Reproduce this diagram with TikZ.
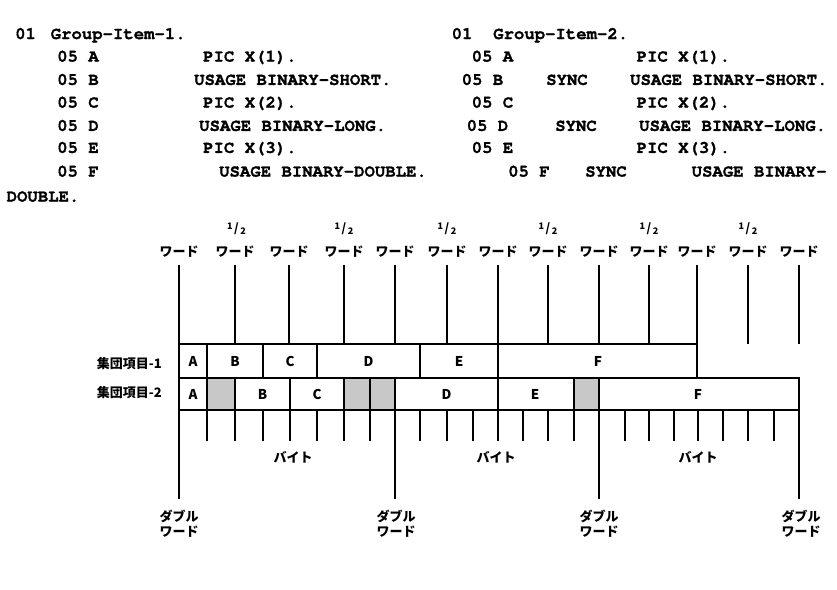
\documentclass[tikz,border=0pt]{standalone}
\usepackage{fontspec}
\setmonofont{texgyrecursor}[Extension=.otf,UprightFont=*-regular,BoldFont=*-bold,BoldFeatures={FakeBold=1.3}]
\newfontfamily\jpfont{Noto Sans CJK JP}
\usepackage{tikz}
\definecolor{padgray}{RGB}{200,200,200}
\newcommand{\halfmark}{{\fontsize{9}{9}\selectfont\raisebox{3pt}{1}}\kern1.5pt{\fontsize{12}{12}\selectfont/}\kern1.5pt{\fontsize{9}{9}\selectfont\raisebox{-2pt}{2}}}

\begin{document}
\begin{tikzpicture}[x=1pt,y=-1pt,line width=2.4pt,
  code/.style={anchor=base west,inner sep=0pt,font=\ttfamily\bfseries\fontsize{17.3}{17.3}\selectfont},
  lbl/.style={inner sep=0pt,align=center,font=\jpfont\bfseries\fontsize{13}{15}\selectfont},
  cell/.style={inner sep=0pt,font=\jpfont\bfseries\fontsize{13.5}{13.5}\selectfont},
  half/.style={inner sep=0pt,font=\jpfont\bfseries}]
\useasboundingbox (0,0) rectangle (837,589);
% Source - Group-Item-1
\node[code] (lv1) at (14,39) {01};
\node[code] (gi1) at (49.5,39) {Group-Item-1.};
\node[code] (a1) at (56,61.6) {05 A};
\node[code] (a1c) at (202,61.6) {PIC X(1).};
\node[code] (b1) at (56,84.9) {05 B};
\node[code] (b1c) at (193,84.9) {USAGE BINARY-SHORT.};
\node[code] (c1) at (56,107.6) {05 C};
\node[code] (c1c) at (202,107.6) {PIC X(2).};
\node[code] (d1) at (56,130.9) {05 D};
\node[code] (d1c) at (198,130.9) {USAGE BINARY-LONG.};
\node[code] (e1) at (56,152.9) {05 E};
\node[code] (e1c) at (202,152.9) {PIC X(3).};
\node[code] (f1) at (56,176.6) {05 F};
\node[code] (f1c) at (218,176.6) {USAGE BINARY-DOUBLE.};
\node[code] (f1d) at (5.5,201.6) {DOUBLE.};
% Source - Group-Item-2
\node[code] (lv2) at (450.5,39) {01};
\node[code] (gi2) at (492,39) {Group-Item-2.};
\node[code] (a2) at (470.5,61.6) {05 A};
\node[code] (a2c) at (635.5,61.6) {PIC X(1).};
\node[code] (b2) at (460.5,84.9) {05 B};
\node[code] (b2s) at (545,84.9) {SYNC};
\node[code] (b2c) at (629,84.9) {USAGE BINARY-SHORT.};
\node[code] (c2) at (470.5,107.6) {05 C};
\node[code] (c2c) at (635.5,107.6) {PIC X(2).};
\node[code] (d2) at (465.5,130.9) {05 D};
\node[code] (d2s) at (554,130.9) {SYNC};
\node[code] (d2c) at (638,130.9) {USAGE BINARY-LONG.};
\node[code] (e2) at (470.5,152.9) {05 E};
\node[code] (e2c) at (635.5,152.9) {PIC X(3).};
\node[code] (f2) at (507,176.6) {05 F};
\node[code] (f2s) at (584,176.6) {SYNC};
\node[code] (f2c) at (690.5,176.6) {USAGE BINARY-};
% Word / half word ticks
\foreach \x in {179,235,289,344,395,447,498,548,599,649,697,748,799}{
  \draw (\x,265) -- (\x,344);
  \node[lbl] at (\x,252) {ワード};
}
\foreach \x in {236.5,344,447,548,649,748}
  \node[half] at (\x,229) {\halfmark};
% Group-Item-1 row
\draw (179,344) rectangle (697,378);
\foreach \x in {207,263,317,420,498}
  \draw (\x,344) -- (\x,378);
% Group-Item-2 row
\fill[padgray] (207,378) rectangle (235,410);
\fill[padgray] (344,378) rectangle (395,410);
\fill[padgray] (574,378) rectangle (599,410);
\draw (179,378) rectangle (799,410);
\foreach \x in {207,235,290,344,370,395,498,574,599}
  \draw (\x,378) -- (\x,410);
% Bytes
\foreach \x in {207,235,263,290,317,344,370,420,447,473,498,523,548,574,625,649,674,698,723,748,774}
  \draw (\x,410) -- (\x,441);
% Double words
\foreach \x in {179,395,599,799}
  \draw (\x,410) -- (\x,499);
% Labels
\node[lbl,anchor=east] (r1) at (163,364) {集団項目-1};
\node[lbl,anchor=east] (r2) at (163,393) {集団項目-2};
\node[cell] at (193,361.5) {A};
\node[cell] at (235,361.5) {B};
\node[cell] at (290,361.5) {C};
\node[cell] at (368.5,361.5) {D};
\node[cell] at (459,361.5) {E};
\node[cell] at (598,361.5) {F};
\node[cell] at (193,394) {A};
\node[cell] at (262.5,394) {B};
\node[cell] at (317,394) {C};
\node[cell] at (446.5,394) {D};
\node[cell] at (535,394) {E};
\node[cell] at (698,394) {F};
\node[lbl] (by1) at (293,457) {バイト};
\node[lbl] (by2) at (496,457) {バイト};
\node[lbl] (by3) at (698,457) {バイト};
\node[lbl] (dw1) at (179,524) {ダブル\\ワード};
\node[lbl] (dw2) at (396,524) {ダブル\\ワード};
\node[lbl] (dw3) at (599,524) {ダブル\\ワード};
\node[lbl] (dw4) at (801,524) {ダブル\\ワード};
\end{tikzpicture}
\end{document}
